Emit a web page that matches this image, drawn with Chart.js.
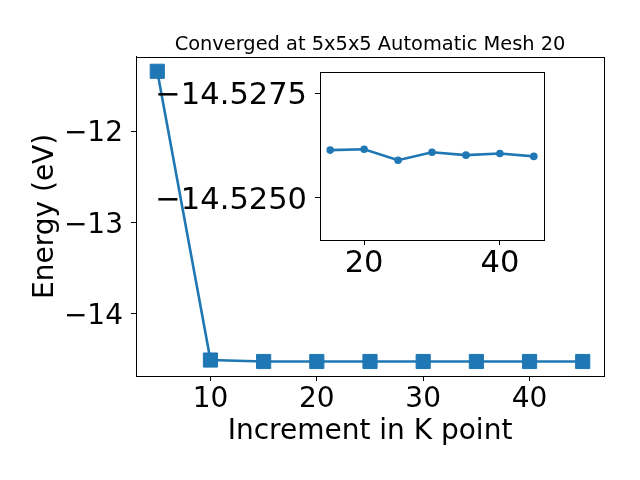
<!DOCTYPE html>
<html>
<head>
<meta charset="utf-8">
<script src="https://cdn.jsdelivr.net/npm/chart.js@4/dist/chart.umd.min.js"></script>
<style>
  body { margin: 0; background: #fff; }
  #wrap { position: relative; width: 640px; height: 480px; }
  #wrap canvas { position: absolute; left: 0; top: 0; }
  #inset { pointer-events: none; }
</style>
</head>
<body>
<div id="wrap">
  <canvas id="main" width="640" height="480"></canvas>
  <canvas id="inset" width="640" height="480"></canvas>
</div>
<script>
// data
const kpoints = [5, 10, 15, 20, 25, 30, 35, 40, 45];
const energy = [-11.344, -14.51, -14.52614, -14.52616, -14.52590, -14.52609, -14.52602, -14.52606, -14.52599];
const mainXTicks = [10, 20, 30, 40];
const mainYTicks = [-14, -13, -12];
const insetXTicks = [20, 40];
const insetYTicks = [-14.5275, -14.5250];

const blue = '#1f77b4';
Chart.defaults.font.family = 'DejaVu Sans';
Chart.defaults.color = '#000';
Chart.defaults.animation = false;

const minus = v => String(v).replace('-', '\u2212');

// white face for the inset + box around each plot area
const frame = {
  id: 'frame',
  beforeDatasetsDraw(chart) {
    const a = chart.chartArea, c = chart.ctx;
    if (chart.canvas.id !== 'inset') return;
    c.save();
    c.fillStyle = '#fff';
    c.fillRect(a.left, a.top, a.right - a.left, a.bottom - a.top);
    c.restore();
  },
  afterDraw(chart) {
    const a = chart.chartArea, c = chart.ctx;
    c.save();
    c.strokeStyle = '#000';
    c.lineWidth = 1;
    c.strokeRect(Math.round(a.left) + 0.5, Math.round(a.top) + 0.5, Math.round(a.right - a.left), Math.round(a.bottom - a.top));
    c.restore();
  }
};

function axisCommon() {
  return {
    grid: { display: true, drawOnChartArea: false, color: '#000', tickLength: 5, tickWidth: 1 },
    border: { display: true, color: '#000', width: 1 },
  };
}

new Chart(document.getElementById('main'), {
  type: 'line',
  data: {
    datasets: [{
      data: kpoints.map((k, i) => ({ x: k, y: energy[i] })),
      borderColor: blue,
      backgroundColor: blue,
      borderWidth: 2.6,
      pointStyle: 'rect',
      pointRadius: 10,
      pointBorderWidth: 1,
      pointBorderColor: blue,
      tension: 0
    }]
  },
  options: {
    responsive: false,
    layout: { padding: { left: 0, right: 36, top: 0, bottom: 0 } },
    plugins: {
      legend: { display: false },
      tooltip: { enabled: false },
      title: {
        display: true,
        fullSize: false,
        text: 'Converged at 5x5x5 Automatic Mesh 20',
        font: { size: 19.4, weight: 'normal' },
        padding: { top: 33.5, bottom: 0 }
      }
    },
    scales: {
      x: {
        type: 'linear', min: 3, max: 47,
        ...axisCommon(),
        afterBuildTicks: s => { s.ticks = mainXTicks.map(v => ({ value: v })); },
        afterFit: s => { s.height = 104; },
        ticks: { font: { size: 28 }, padding: 2, callback: v => minus(v) },
        title: { display: true, text: 'Increment in K point', font: { size: 28 }, padding: { top: 0, bottom: 31 } }
      },
      y: {
        type: 'linear', min: -14.685, max: -11.185,
        ...axisCommon(),
        afterBuildTicks: s => { s.ticks = mainYTicks.map(v => ({ value: v })); },
        afterFit: s => { s.width = 136; },
        ticks: { font: { size: 28 }, padding: 8, labelOffset: 3, callback: v => minus(v) },
        title: { display: true, text: 'Energy (eV)', font: { size: 28 }, padding: { top: 29, bottom: 0 } }
      }
    }
  },
  plugins: [frame]
});

new Chart(document.getElementById('inset'), {
  type: 'line',
  data: {
    datasets: [{
      data: kpoints.slice(2).map((k, i) => ({ x: k, y: energy[i + 2] })),
      borderColor: blue,
      backgroundColor: blue,
      borderWidth: 2.6,
      pointStyle: 'circle',
      pointRadius: 3.8,
      pointBorderWidth: 0,
      tension: 0
    }]
  },
  options: {
    responsive: false,
    layout: { padding: { left: 0, right: 96, top: 72, bottom: 0 } },
    plugins: { legend: { display: false }, tooltip: { enabled: false } },
    scales: {
      x: {
        type: 'linear', min: 13.5, max: 46.5,
        ...axisCommon(),
        afterBuildTicks: s => { s.ticks = insetXTicks.map(v => ({ value: v })); },
        afterFit: s => { s.height = 240; },
        ticks: { font: { size: 30.5 }, padding: 1, callback: v => minus(v) }
      },
      y: {
        type: 'linear', min: -14.528, max: -14.524, reverse: true,
        ...axisCommon(),
        afterBuildTicks: s => { s.ticks = insetYTicks.map(v => ({ value: v })); },
        afterFit: s => { s.width = 320; },
        ticks: { font: { size: 30.5 }, padding: 8, labelOffset: 3, callback: v => minus(v.toFixed(4)) }
      }
    }
  },
  plugins: [frame]
});
</script>
</body>
</html>
